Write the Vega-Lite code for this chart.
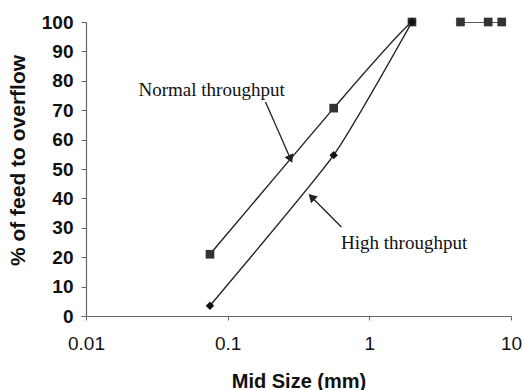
{
  "$schema": "https://vega.github.io/schema/vega-lite/v6.json",
  "width": 425,
  "height": 294,
  "autosize": "none",
  "padding": {"left": 86, "top": 22, "right": 12, "bottom": 74},
  "background": "white",
  "config": {
    "view": {"stroke": null},
    "font": "Liberation Sans",
    "axis": {"grid": false, "domainColor": "#666", "tickColor": "#666", "labelColor": "#111", "titleColor": "#111", "domainWidth": 1.2}
  },
  "datasets": {
    "curves": [
      {"size": 0.075, "pct": 21, "series": "Normal"},
      {"size": 0.56, "pct": 70.7, "series": "Normal"},
      {"size": 2, "pct": 100, "series": "Normal"},
      {"size": 4.4, "pct": 100, "series": "Normal"},
      {"size": 6.9, "pct": 100, "series": "Normal"},
      {"size": 8.6, "pct": 100, "series": "Normal"},
      {"size": 0.075, "pct": 3.5, "series": "High"},
      {"size": 0.56, "pct": 54.7, "series": "High"},
      {"size": 2, "pct": 100, "series": "High"}
    ],
    "labels": [
      {"label": "Normal throughput", "size": 0.077, "pct": 77},
      {"label": "High throughput", "size": 1.76, "pct": 24.8}
    ],
    "arrows": [
      {"label": "Normal throughput", "size": 0.185, "pct": 72.8, "size2": 0.278, "pct2": 53.4},
      {"label": "High throughput", "size": 0.635, "pct": 30.3, "size2": 0.391, "pct2": 40.5}
    ]
  },
  "encoding": {
    "x": {
      "field": "size", "type": "quantitative",
      "scale": {"type": "log", "domain": [0.01, 10]},
      "axis": {"values": [0.01, 0.1, 1, 10], "format": "~g", "title": "Mid Size (mm)", "labelFontSize": 19, "titleFontSize": 20, "titleFontWeight": "bold", "tickSize": 4, "labelPadding": 14, "titleY": 71, "titleBaseline": "alphabetic", "labelFlush": false, "labelOverlap": false}
    },
    "y": {
      "field": "pct", "type": "quantitative",
      "scale": {"domain": [0, 100], "nice": false},
      "axis": {"values": [0, 10, 20, 30, 40, 50, 60, 70, 80, 90, 100], "title": "% of feed to overflow", "labelFontSize": 19, "labelFontWeight": "bold", "labelOverlap": false, "labelFlush": false, "titleFontSize": 21, "titleFontWeight": "bold", "tickSize": 5, "labelPadding": 8, "titleX": -68, "titleY": 138, "titleAngle": 270, "titleAlign": "center", "titleBaseline": "middle"}
    }
  },
  "layer": [
    {
      "data": {"name": "curves"},
      "mark": {"type": "line", "interpolate": "cardinal", "tension": 0.5, "clip": true, "color": "#222", "strokeWidth": 1.4},
      "encoding": {"detail": {"field": "series"}}
    },
    {
      "data": {"name": "curves"},
      "mark": {"type": "point", "filled": true, "clip": false, "opacity": 1},
      "encoding": {
        "shape": {"field": "series", "type": "nominal", "scale": {"domain": ["Normal", "High"], "range": ["square", "diamond"]}, "legend": null},
        "size": {"field": "series", "type": "nominal", "scale": {"domain": ["Normal", "High"], "range": [75, 70]}, "legend": null},
        "color": {"field": "series", "type": "nominal", "scale": {"domain": ["Normal", "High"], "range": ["#333", "#111"]}, "legend": null}
      }
    },
    {
      "data": {"name": "arrows"},
      "mark": {"type": "rule", "color": "#222", "strokeWidth": 1.3},
      "encoding": {"x2": {"field": "size2"}, "y2": {"field": "pct2"}}
    },
    {
      "data": {"name": "arrows"},
      "transform": [{"filter": "datum.label == 'Normal throughput'"}],
      "mark": {"type": "point", "shape": "triangle-up", "filled": true, "color": "#222", "size": 90, "angle": 156, "opacity": 1},
      "encoding": {"x": {"field": "size2", "type": "quantitative"}, "y": {"field": "pct2", "type": "quantitative"}}
    },
    {
      "data": {"name": "arrows"},
      "transform": [{"filter": "datum.label == 'High throughput'"}],
      "mark": {"type": "point", "shape": "triangle-up", "filled": true, "color": "#222", "size": 90, "angle": 315, "opacity": 1},
      "encoding": {"x": {"field": "size2", "type": "quantitative"}, "y": {"field": "pct2", "type": "quantitative"}}
    },
    {
      "data": {"name": "labels"},
      "mark": {"type": "text", "font": "Liberation Serif", "fontSize": 19, "color": "#111", "align": "center", "baseline": "middle"},
      "encoding": {"text": {"field": "label"}}
    }
  ]
}
